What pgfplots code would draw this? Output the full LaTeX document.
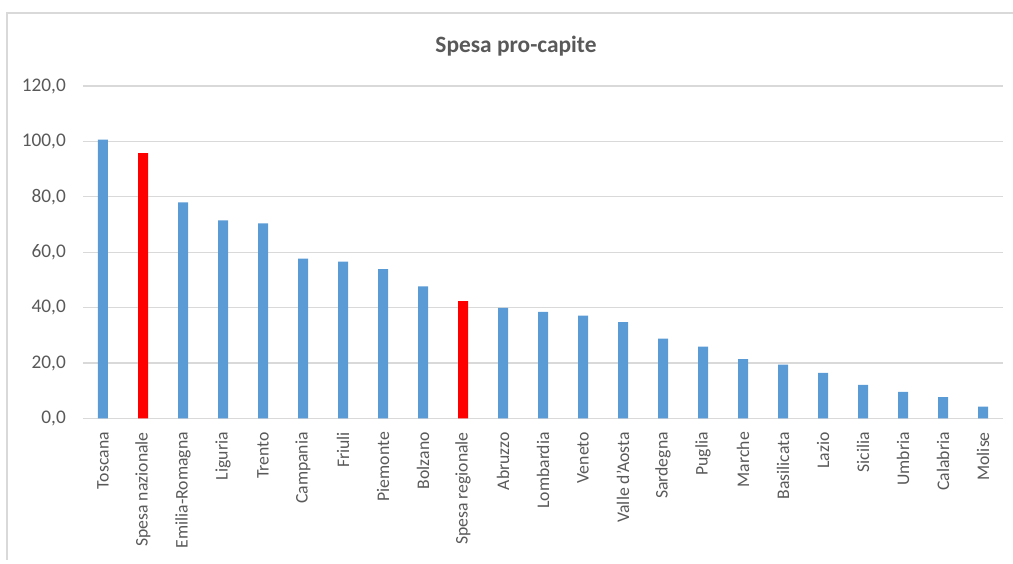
\documentclass[border=0pt]{standalone}
\usepackage{fontspec}
\setmainfont{Carlito}
\usepackage{pgfplots}
\pgfplotsset{compat=1.18}
\definecolor{barblue}{HTML}{5B9BD5}
\definecolor{barred}{HTML}{FF0000}
\definecolor{gridgray}{HTML}{D9D9D9}
\definecolor{txtgray}{HTML}{595959}
\definecolor{framegray}{HTML}{D9D9D9}
\begin{document}
\begin{tikzpicture}[x=1pt,y=1pt]
\path[use as bounding box] (0,0) rectangle (1013,564);
\draw[framegray, line width=1.5pt] (7,4) -- (7,551) -- (1013,551);
\node[anchor=base, text=txtgray, font=\fontsize{23.4}{28}\selectfont\bfseries] at (516,511) {Spesa pro-capite};
\begin{axis}[
  at={(83pt,145.5pt)}, anchor=south west,
  scale only axis, width=920pt, height=332.5pt,
  xmin=-0.5, xmax=22.5, ymin=0, ymax=120,
  ytick={0,20,...,120},
  xtick={0,...,22},
  xticklabels={Toscana,Spesa nazionale,Emilia-Romagna,Liguria,Trento,Campania,Friuli,Piemonte,Bolzano,Spesa regionale,Abruzzo,Lombardia,Veneto,Valle d'Aosta,Sardegna,Puglia,Marche,Basilicata,Lazio,Sicilia,Umbria,Calabria,Molise},
  axis line style={draw=none},
  major tick length=0pt,
  ymajorgrids, grid style={gridgray, line width=1.3pt},
  yticklabel style={text=txtgray, font=\fontsize{19.3}{23}\selectfont, anchor=east, inner xsep=17pt, inner ysep=0pt},
  xticklabel style={text=txtgray, font=\fontsize{17.7}{21}\selectfont, rotate=90, anchor=east, inner xsep=13.5pt, inner ysep=0pt},
  /pgf/number format/.cd, fixed, fixed zerofill, precision=1, use comma, assume math mode=true,
]
\addplot[ybar, bar width=10pt, bar shift=0pt, fill=barblue, draw=none] coordinates {
 (0,100.6) (2,78.0) (3,71.5) (4,70.4) (5,57.7) (6,56.6) (7,53.9) (8,47.7)
 (10,39.9) (11,38.5) (12,37.1) (13,34.8) (14,28.8) (15,25.9) (16,21.4)
 (17,19.4) (18,16.5) (19,12.1) (20,9.6) (21,7.7) (22,4.3)
};
\addplot[ybar, bar width=10pt, bar shift=0pt, fill=barred, draw=none] coordinates {
 (1,95.8) (9,42.4)
};
\end{axis}
\end{tikzpicture}
\end{document}
